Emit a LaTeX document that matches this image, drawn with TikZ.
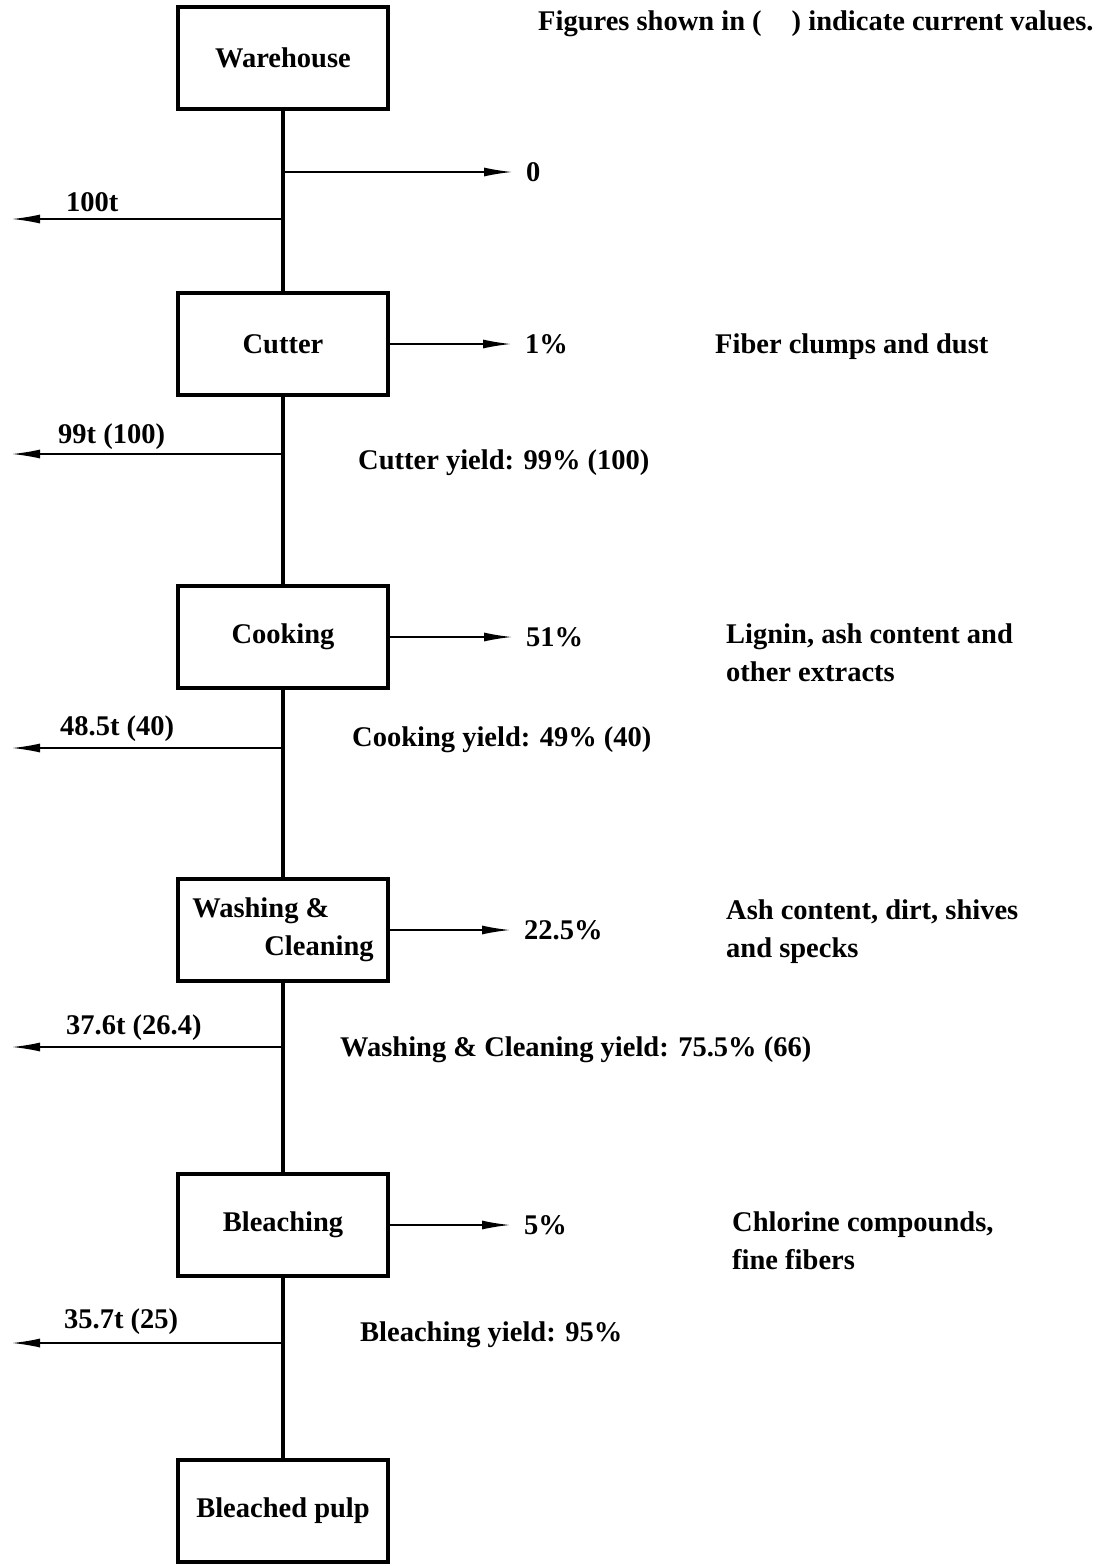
\documentclass[tikz,border=0pt]{standalone}
\usepackage{fontspec}
\setmainfont{Liberation Serif}
\usepackage{tikz}
\usetikzlibrary{arrows.meta}
\usetikzlibrary{calc}
\usetikzlibrary{positioning}

\begin{document}
\begin{tikzpicture}[x=1pt, y=-1pt, font=\fontsize{28.5}{38}\selectfont\bfseries]

    \useasboundingbox (0,0) rectangle (1106,1566);

    % stages
    \begin{scope}[every node/.style={draw, line width=3.5pt, minimum width=210pt, minimum height=102pt, inner sep=4pt}]
        \node (wh) at (283,58) {Warehouse};
        \node (cut) at (283,344) {Cutter};
        \node (cook) at (283,637) {Cooking};
        \node[align=left] (wash) at (283,930) {Washing \&\\\hspace*{72pt}Cleaning};
        \node (bl) at (283,1225) {Bleaching};
        \node (pulp) at (283,1511) {Bleached pulp};
    \end{scope}

    % main line
    \draw[line width=4.5pt] (wh) -- (cut) -- (cook) -- (wash) -- (bl) -- (pulp);

    % junctions on the main line
    \coordinate (j0) at (283,172);
    \coordinate (j1) at (283,219);
    \coordinate (j2) at (283,454);
    \coordinate (j3) at (283,748);
    \coordinate (j4) at (283,1047);
    \coordinate (j5) at (283,1343);

    % left ends
    \coordinate (e1) at (12,219);
    \coordinate (e2) at (12,454);
    \coordinate (e3) at (12,748);
    \coordinate (e4) at (12,1047);
    \coordinate (e5) at (12,1343);

    % losses
    \begin{scope}[every node/.style={anchor=west, inner sep=0pt}]
        \node (z0) at (526,172) {0};
        \node (z1) at (525,344) {1\%};
        \node (z2) at (526,637) {51\%};
        \node (z3) at (524,930) {22.5\%};
        \node (z4) at (524,1225) {5\%};
    \end{scope}

    % flows
    \begin{scope}[every path/.style={line width=1.5pt, -{Latex[length=28pt, width=9pt]}}]
        \draw[shorten >=14pt] (j0) -- (z0.west);
        \draw[shorten >=14pt] (cut.east) -- (z1.west);
        \draw[shorten >=14pt] (cook.east) -- (z2.west);
        \draw[shorten >=14pt] (wash.east) -- (z3.west);
        \draw[shorten >=14pt] (bl.east) -- (z4.west);
        \draw (j1) -- (e1);
        \draw (j2) -- (e2);
        \draw (j3) -- (e3);
        \draw (j4) -- (e4);
        \draw (j5) -- (e5);
    \end{scope}

    % tonnages
    \begin{scope}[every node/.style={anchor=west, inner sep=0pt}]
        \node (t1) at (66,202) {100t};
        \node (t2) at (58,437) {99t (100)};
        \node (t3) at (60,729) {48.5t (40)};
        \node (t4) at (66,1028) {37.6t (26.4)};
        \node (t5) at (64,1322) {35.7t (25)};
    \end{scope}

    % yields
    \begin{scope}[every node/.style={anchor=west, inner sep=0pt}]
        \node (y1) at (358,463) {Cutter yield: 99\% (100)};
        \node (y2) at (352,740) {Cooking yield: 49\% (40)};
        \node (y3) at (340,1050) {Washing \& Cleaning yield: 75.5\% (66)};
        \node (y4) at (360,1335) {Bleaching yield: 95\%};
    \end{scope}

    % what is removed
    \begin{scope}[every node/.style={anchor=west, inner sep=0pt, align=left}]
        \node (r1) at (715,347) {Fiber clumps and dust};
        \node (r2) at (726,653) {Lignin, ash content and\\other extracts};
        \node (r3) at (726,932) {Ash content, dirt, shives\\and specks};
        \node (r4) at (732,1241) {Chlorine compounds,\\fine fibers};
    \end{scope}

    % note
    \node[anchor=west, inner sep=0pt] (note) at (538,24) {Figures shown in (\hspace{30pt}) indicate current values.};

\end{tikzpicture}
\end{document}
